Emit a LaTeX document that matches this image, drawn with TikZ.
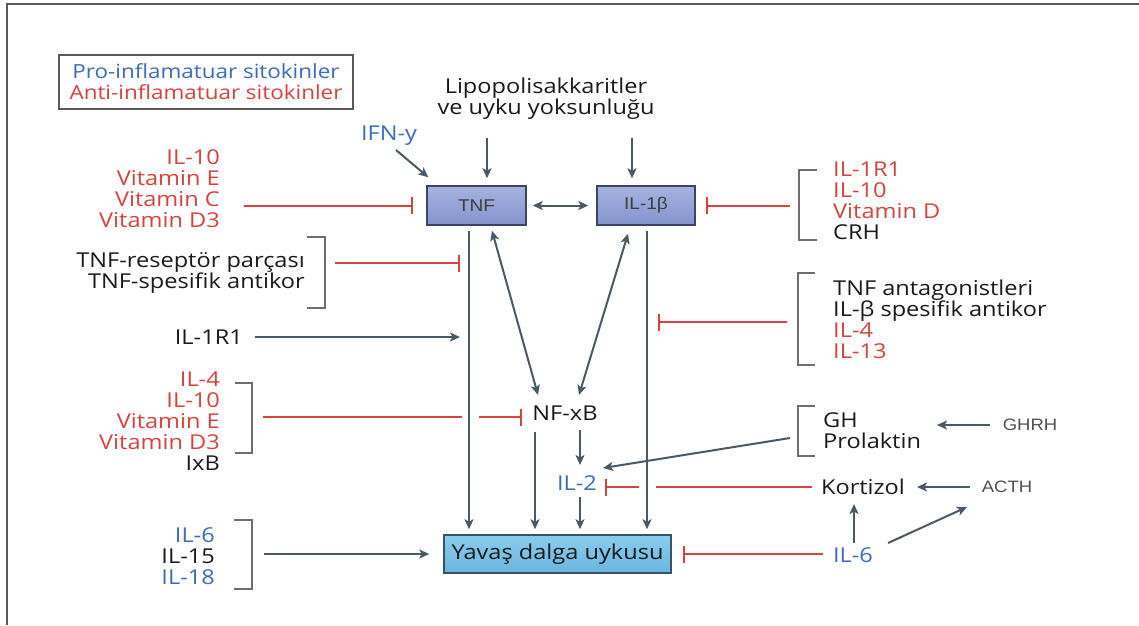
\documentclass[tikz,border=0pt]{standalone}
\usepackage{fontspec}
\setmainfont{Open Sans}[FakeStretch=1.15]
\newfontfamily\boxfont{Liberation Sans}[FakeStretch=1.12]
\usetikzlibrary{arrows.meta,calc}

\definecolor{problue}{HTML}{3D6CB9}
\definecolor{antired}{HTML}{D5433D}
\definecolor{ink}{HTML}{1A1A1A}
\definecolor{arrowgray}{HTML}{4A5A64}
\definecolor{bracketgray}{HTML}{6E6E6E}
\definecolor{framegray}{HTML}{5A5A5A}
\definecolor{hormgray}{HTML}{505050}
\definecolor{cytotop}{HTML}{A6B3E0}
\definecolor{cytobot}{HTML}{8493CD}
\definecolor{cytoedge}{HTML}{3D4566}
\definecolor{sleeptop}{HTML}{8ACDEE}
\definecolor{sleepbot}{HTML}{6AB5DE}
\definecolor{sleepedge}{HTML}{3B5262}

\newcommand{\procol}[1]{\textcolor{problue}{#1}}
\newcommand{\anticol}[1]{\textcolor{antired}{#1}}

\begin{document}
\begin{tikzpicture}[x=1pt,y=-1pt,
  lbl/.style={font=\fontsize{20.5}{21}\selectfont, text=ink, inner sep=0pt},
  hormone/.style={font=\boxfont\fontsize{16.5}{18}\selectfont, text=hormgray, inner sep=0pt},
  cytobox/.style={draw=cytoedge, line width=1.5pt, top color=cytotop, bottom color=cytobot,
    minimum height=39pt, inner sep=0pt, font=\boxfont\fontsize{17}{19}\selectfont, text=ink!85},
  sleepbox/.style={draw=sleepedge, line width=1.5pt, top color=sleeptop, bottom color=sleepbot,
    minimum width=227pt, minimum height=38pt, inner sep=0pt, font=\fontsize{20.5}{21}\selectfont, text=ink},
  arr/.style={draw=arrowgray, line width=2pt, -{Stealth[length=10pt,width=9pt,inset=2.5pt]}},
  darr/.style={draw=arrowgray, line width=2pt,
    {Stealth[length=10pt,width=9pt,inset=2.5pt]}-{Stealth[length=10pt,width=9pt,inset=2.5pt]}},
  inh/.style={draw=antired, line width=2pt, -{Bar[width=17pt,line width=2.4pt]}},
  inhline/.style={draw=antired, line width=2pt},
  brk/.style={draw=bracketgray, line width=1.6pt}
]
\useasboundingbox (0,0) rectangle (1139,625);
\fill[white] (0,0) rectangle (1139,625);

% page frame
\draw[framegray, line width=2pt] (7,625) -- (7,4) -- (1139,4);

% legend
\node[lbl, font=\fontsize{19.5}{21}\selectfont, align=center, draw=framegray, line width=1.3pt,
  minimum width=294pt, minimum height=54pt]
  (legend) at (206,82) {\procol{Pro-inflamatuar sitokinler}\\\anticol{Anti-inflamatuar sitokinler}};

% central nodes
\node[lbl, align=center] (lps) at (546,99) {Lipopolisakkaritler\\ve uyku yoksunluğu};
\node[lbl, text=problue] (ifn) at (389,136) {IFN-y};
\node[cytobox, minimum width=99pt] (tnf) at (476.5,205.5) {TNF};
\node[cytobox, minimum width=98pt] (il1b) at (646,205.5) {IL-1β};
\node[lbl] (nfkb) at (565,413) {NF-xB};
\node[lbl, text=problue] (il2) at (577,483) {IL-2};
\node[sleepbox] (yavas) at (557.5,554) {Yavaş dalga uykusu};

% left groups
\node[lbl, align=right, anchor=east] (g1) at (220,189)
  {\anticol{IL-10}\\\anticol{Vitamin E}\\\anticol{Vitamin C}\\\anticol{Vitamin D3}};
\node[lbl, align=right, anchor=east] (g2) at (305,272.5)
  {TNF-reseptör parçası\\TNF-spesifik antikor};
\node[lbl, anchor=east] (il1r1) at (243,337) {IL-1R1};
\node[lbl, align=right, anchor=east] (g3) at (220,421.5)
  {\anticol{IL-4}\\\anticol{IL-10}\\\anticol{Vitamin E}\\\anticol{Vitamin D3}\\IxB};
\node[lbl, align=right, anchor=east] (g4) at (215,556)
  {\procol{IL-6}\\IL-15\\\procol{IL-18}};

% right groups
\node[lbl, align=left, anchor=west] (rg1) at (833,200.5)
  {\anticol{IL-1R1}\\\anticol{IL-10}\\\anticol{Vitamin D}\\CRH};
\node[lbl, align=left, anchor=west] (rg2) at (833,319)
  {TNF antagonistleri\\IL-β spesifik antikor\\\anticol{IL-4}\\\anticol{IL-13}};
\node[lbl, align=left, anchor=west] (ghp) at (823,430.5) {GH\\Prolaktin};
\node[hormone] (ghrh) at (1030,425) {GHRH};
\node[lbl] (kort) at (863,487) {Kortizol};
\node[hormone] (acth) at (1007,487) {ACTH};
\node[lbl, text=problue] (il6r) at (853,555) {IL-6};

% brackets
\draw[brk] (307,237) -- (325,237) -- (325,308) -- (307,308);
\draw[brk] (235,383) -- (252,383) -- (252,453) -- (235,453);
\draw[brk] (234,520) -- (252,520) -- (252,589) -- (234,589);
\draw[brk] (817,170) -- (799,170) -- (799,240) -- (817,240);
\draw[brk] (815,273) -- (798,273) -- (798,365) -- (815,365);
\draw[brk] (815,406) -- (798,406) -- (798,456) -- (815,456);

% connector end points
\coordinate (b1out) at (335,263);
\coordinate (b3out) at (263,417);
\coordinate (b4out) at (264,554);
\coordinate (rb1out) at (790,205.5);
\coordinate (rb2out) at (787,322);
\coordinate (ghbout) at (790,438);
\coordinate (tnfdown) at ([xshift=-7.5pt,yshift=-5pt]tnf.south);
\coordinate (il1bdown) at ([xshift=1pt,yshift=-5pt]il1b.south);

% inputs to TNF and IL-1b
\draw[arr] ([xshift=7pt,yshift=-14pt]ifn.center) -- ([xshift=2pt,yshift=8pt]tnf.north west);
\draw[arr] ([xshift=10.5pt,yshift=47pt]tnf.north) -- ([xshift=10.5pt,yshift=7pt]tnf.north);
\draw[arr] ([xshift=-14pt,yshift=47pt]il1b.north) -- ([xshift=-14pt,yshift=7pt]il1b.north);
\draw[darr] ([xshift=6pt]tnf.east) -- ([xshift=-8pt]il1b.west);

% inhibitors of TNF / IL-1b
\draw[inh] ($(tnf.west)+(-182,0)$) -- ([xshift=-13pt]tnf.west);
\draw[inh] (b1out) -- ([xshift=-9pt]tnfdown |- b1out);
\draw[arr] ([xshift=12pt]il1r1.east) -- ([xshift=-9pt]tnfdown |- il1r1.east);
\draw[inh] (rb1out) -- ([xshift=10pt]il1b.east);
\draw[inh] (rb2out) -- ([xshift=11pt]il1bdown |- rb2out);

% main descending paths
\draw[arr, shorten >=5pt] (tnfdown) -- (tnfdown |- yavas.north);
\draw[arr, shorten >=5pt] (il1bdown) -- (il1bdown |- yavas.north);
\draw[darr] ([xshift=15.5pt,yshift=-5pt]tnf.south) -- ([xshift=-27pt,yshift=18pt]nfkb.center);
\draw[darr] ([xshift=-18pt,yshift=-8pt]il1b.south) -- ([xshift=14pt,yshift=18pt]nfkb.center);

% NF-kB inhibition, crossing the TNF line
\draw[inhline] (b3out) -- ([xshift=-7pt]tnfdown |- b3out);
\draw[inh] ([xshift=10pt]tnfdown |- b3out) -- ([xshift=-43pt]nfkb.center |- b3out);

% NF-kB and IL-2 to sleep
\coordinate (nfa) at ([xshift=-30pt,yshift=-19pt]nfkb.center);
\draw[arr, shorten >=5pt] (nfa) -- (nfa |- yavas.north);
\draw[arr] ([xshift=15pt,yshift=-17pt]nfkb.center) -- ([xshift=3pt,yshift=18pt]il2.center);
\coordinate (il2a) at ([xshift=3pt,yshift=-14pt]il2.center);
\draw[arr, shorten >=5pt] (il2a) -- (il2a |- yavas.north);
\draw[arr] (ghbout) -- ([xshift=26pt,yshift=15pt]il2.center);

% cortisol inhibition of IL-2, crossing the IL-1b line
\draw[inhline] ([xshift=-9pt]kort.west) -- ([xshift=9pt]il1bdown |- kort.west);
\draw[inh] ([xshift=-8pt]il1bdown |- kort.west) -- ([xshift=28pt]il2.center |- kort.west);

% inputs to slow-wave sleep
\draw[arr] (b4out) -- ([xshift=-14pt]yavas.west);
\draw[inh] ([xshift=-10pt]il6r.west |- yavas.east) -- ([xshift=11pt]yavas.east);

% hormonal axis
\draw[arr] ([xshift=1pt,yshift=12pt]il6r.center) -- ([xshift=-9pt,yshift=-17pt]kort.center);
\draw[arr] ([xshift=35pt,yshift=12pt]il6r.center) -- ([xshift=-40pt,yshift=-20pt]acth.center);
\draw[arr] ([xshift=-37pt]acth.center) -- ([xshift=54pt]kort.center);
\draw[arr] ([xshift=-40pt]ghrh.center) -- ([xshift=-93pt]ghrh.center);
\end{tikzpicture}
\end{document}
